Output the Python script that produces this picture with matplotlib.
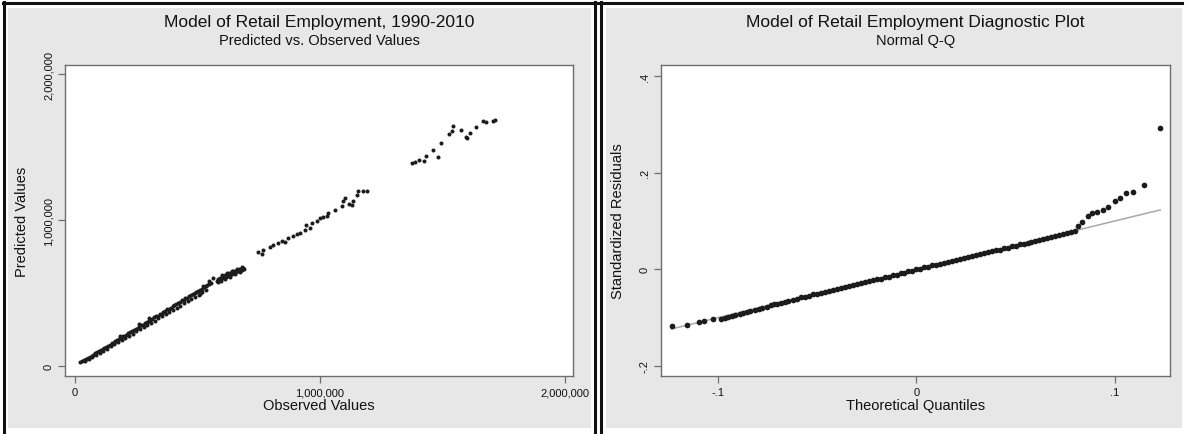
import matplotlib.pyplot as plt
from matplotlib.patches import Rectangle
from matplotlib.lines import Line2D
from matplotlib.ticker import FuncFormatter

# ---- left panel: predicted vs observed (values in thousands) ----
band_obs_k = [22, 30, 38, 45, 52, 60, 68, 75, 83, 90, 98, 105, 113, 120, 128, 135, 143, 150, 158, 165,
              173, 180, 188, 195, 203, 210, 218, 225, 233, 240, 248, 255, 263, 270, 278, 285, 293, 300, 308, 315,
              323, 330, 338, 345, 353, 360, 368, 375, 383, 390, 398, 405, 413, 420, 428, 435, 443, 450, 458, 465,
              473, 480, 488, 495, 503, 510, 518, 525, 533, 540, 548, 555]
band_pred_k = [30, 36, 42, 50, 55, 63, 72, 78, 88, 93, 101, 110, 116, 126, 131, 140, 147, 157, 161, 171,
               176, 186, 192, 203, 207, 216, 224, 232, 237, 249, 252, 263, 268, 281, 284, 296, 300, 309, 316, 325,
               334, 340, 344, 356, 360, 371, 376, 388, 392, 401, 408, 419, 424, 433, 437, 450, 453, 466, 469, 478,
               486, 497, 500, 510, 515, 524, 530, 541, 545, 555, 560, 572]
edge_obs_k = [40, 55, 70, 85, 100, 115, 130, 145, 160, 175, 190, 205, 220, 235, 250, 265, 280, 295, 310, 325,
              340, 355, 370, 385, 400, 415, 430, 445, 460, 475, 490, 505, 520, 535]
edge_pred_k = [33, 49, 62, 77, 91, 106, 120, 135, 149, 164, 179, 193, 208, 223, 238, 252, 267, 282, 296, 311,
               326, 341, 356, 370, 385, 400, 414, 430, 444, 459, 473, 489, 504, 518]
blob_obs_k = [578, 582, 586, 590, 594, 598, 602, 606, 610, 614, 618, 622, 626, 630, 634, 638, 642, 646, 650, 654,
              658, 662, 666, 670, 674, 678, 682, 686, 690, 600, 620, 640, 660, 680, 612, 632, 652, 672, 585, 595,
              563, 545, 523, 510, 302, 262, 183]
blob_pred_k = [585, 598, 590, 605, 595, 612, 600, 618, 607, 622, 612, 630, 618, 635, 624, 640, 630, 648, 636, 652,
               642, 660, 648, 664, 655, 668, 660, 672, 665, 622, 640, 652, 668, 676, 594, 612, 628, 645, 575, 582,
               600, 585, 545, 497, 331, 288, 204]
mid_obs_k = [748, 762, 769, 796, 810, 830, 844, 857, 871, 891, 905, 918, 939, 943, 959, 966, 986, 1000,
             1011, 1027, 1034, 1061, 1088, 1093, 1102, 1120, 1129, 1136, 1150, 1156, 1177, 1190]
mid_pred_k = [779, 766, 795, 818, 830, 841, 857, 853, 876, 894, 903, 910, 933, 968, 945, 979, 991, 1014,
              1018, 1026, 1048, 1071, 1094, 1129, 1152, 1110, 1101, 1129, 1174, 1202, 1198, 1202]
top_obs_k = [1374, 1388, 1405, 1424, 1433, 1460, 1483, 1493, 1525, 1537, 1544, 1576, 1595, 1601, 1612,
             1637, 1664, 1678, 1705, 1714]
top_pred_k = [1393, 1400, 1412, 1405, 1439, 1478, 1432, 1531, 1588, 1612, 1646, 1618, 1570, 1561, 1595,
              1639, 1676, 1669, 1681, 1685]

# ---- right panel: normal Q-Q of standardized residuals ----
qq_low_x = [-0.1234, -0.1154, -0.1098, -0.1068, -0.1023, -0.0987, -0.0965, -0.0947, -0.0930, -0.0912,
            -0.0890, -0.0872, -0.0855, -0.0836, -0.0815, -0.0795, -0.0776, -0.0755, -0.0735, -0.0720,
            -0.0700, -0.0680, -0.0662, -0.0645]
qq_low_y = [-0.118, -0.116, -0.110, -0.106, -0.102, -0.102, -0.100, -0.099, -0.097, -0.095,
            -0.093, -0.091, -0.089, -0.087, -0.084, -0.082, -0.079, -0.077, -0.074, -0.072,
            -0.071, -0.069, -0.067, -0.066]
qq_mid_x = [-0.062, -0.060, -0.058, -0.056, -0.054, -0.052, -0.050, -0.048, -0.046, -0.044, -0.042, -0.040,
            -0.038, -0.036, -0.034, -0.032, -0.030, -0.028, -0.026, -0.024, -0.022, -0.020, -0.018, -0.016,
            -0.014, -0.012, -0.010, -0.008, -0.006, -0.004, -0.002, 0.000, 0.002, 0.004, 0.006, 0.008,
            0.010, 0.012, 0.014, 0.016, 0.018, 0.020, 0.022, 0.024, 0.026, 0.028, 0.030, 0.032,
            0.034, 0.036, 0.038, 0.040, 0.042, 0.044, 0.046, 0.048, 0.050, 0.052, 0.054, 0.056,
            0.058, 0.060, 0.062, 0.064, 0.066, 0.068, 0.070, 0.072, 0.074, 0.076, 0.078, 0.080]
qq_mid_y = [-0.063, -0.061, -0.058, -0.057, -0.055, -0.052, -0.051, -0.048, -0.047, -0.044, -0.043, -0.040,
            -0.039, -0.036, -0.035, -0.032, -0.031, -0.028, -0.027, -0.024, -0.023, -0.020, -0.019, -0.016,
            -0.015, -0.012, -0.011, -0.008, -0.007, -0.004, -0.003, 0.000, 0.001, 0.004, 0.005, 0.008,
            0.009, 0.012, 0.013, 0.016, 0.017, 0.020, 0.021, 0.024, 0.025, 0.028, 0.029, 0.032,
            0.033, 0.036, 0.037, 0.040, 0.041, 0.044, 0.045, 0.048, 0.049, 0.052, 0.053, 0.055,
            0.056, 0.058, 0.060, 0.063, 0.064, 0.067, 0.069, 0.071, 0.073, 0.075, 0.077, 0.080]
qq_high_x = [0.0816, 0.0836, 0.0866, 0.0887, 0.0912, 0.0942, 0.0967, 0.1003, 0.1028, 0.1058, 0.1093,
             0.1149, 0.1229]
qq_high_y = [0.089, 0.097, 0.110, 0.116, 0.118, 0.122, 0.128, 0.141, 0.147, 0.157, 0.159,
             0.174, 0.292]

W, H = 1190, 435
plt.rcParams['font.family'] = ['Liberation Sans', 'DejaVu Sans']

fig = plt.figure(figsize=(W / 100, H / 100), dpi=100)


def box(x0, y0, x1, y1):
    # pixel box (top-left origin) -> figure fraction rect
    return [x0 / W, 1 - y1 / H, (x1 - x0) / W, (y1 - y0) / H]


# panel backgrounds and frame lines
for x0, x1 in [(8, 591), (606, 1182)]:
    l, b, w, h = box(x0, 9, x1, 429)
    fig.add_artist(Rectangle((l, b), w, h, transform=fig.transFigure,
                             facecolor='#e7e7e7', edgecolor='none', zorder=0))
for xp in [3.5, 594.5, 600.5]:
    fig.add_artist(Line2D([xp / W, xp / W], [0, 1 - 3 / H], transform=fig.transFigure,
                          color='#111111', lw=2.2))
fig.add_artist(Line2D([3 / W, 1182 / W], [1 - 3.5 / H, 1 - 3.5 / H], transform=fig.transFigure,
                      color='#111111', lw=2.2))

ax1 = fig.add_axes(box(65, 66, 573, 377))
ax2 = fig.add_axes(box(661, 66, 1170, 377))

dot = '#1c1c1c'
obs = [v * 1000 for v in band_obs_k + edge_obs_k + blob_obs_k + mid_obs_k + top_obs_k]
pred = [v * 1000 for v in band_pred_k + edge_pred_k + blob_pred_k + mid_pred_k + top_pred_k]
ax1.plot(obs, pred, 'o', ms=2.9, color=dot, mec='none')
ax1.set_xlim(-41000, 2033000)
ax1.set_ylim(-68000, 2062000)
ax1.set_xticks([0, 1000000, 2000000])
ax1.set_yticks([0, 1000000, 2000000])
comma = FuncFormatter(lambda v, p: f'{int(v):,}')
ax1.xaxis.set_major_formatter(comma)
ax1.yaxis.set_major_formatter(comma)

qx = qq_low_x + qq_mid_x + qq_high_x
qy = qq_low_y + qq_mid_y + qq_high_y
ax2.plot([min(qx), max(qx)], [min(qx), max(qx)], color='#a8a8a8', lw=1.1, zorder=1)
ax2.plot(qx, qy, 'o', ms=4.1, color=dot, mec='none', zorder=2)
ax2.set_xlim(-0.1287, 0.1278)
ax2.set_ylim(-0.2207, 0.4227)
ax2.set_xticks([-0.1, 0, 0.1])
ax2.set_xticklabels(['-.1', '0', '.1'])
ax2.set_yticks([-0.2, 0, 0.2, 0.4])
ax2.set_yticklabels(['-.2', '0', '.2', '.4'])

titles = [(ax1, 'Model of Retail Employment, 1990-2010', 'Predicted vs. Observed Values',
           'Observed Values', 'Predicted Values'),
          (ax2, 'Model of Retail Employment Diagnostic Plot', 'Normal Q-Q',
           'Theoretical Quantiles', 'Standardized Residuals')]
for ax, t, st, xl, yl in titles:
    ax.set_facecolor('white')
    for s in ax.spines.values():
        s.set_color('#6e6e6e')
        s.set_linewidth(1.0)
    ax.tick_params(colors='#6e6e6e', labelcolor='#111111', length=5, width=0.9,
                   labelsize=8, pad=3)
    plt.setp(ax.get_yticklabels(), rotation=90, va='center')
    ax.set_xlabel(xl, fontsize=10.5, color='#111111', labelpad=1)
    ax.set_ylabel(yl, fontsize=10.5, color='#111111', labelpad=11)
    pos = ax.get_position()
    cx = pos.x0 + pos.width / 2
    fig.text(cx, 1 - 22 / H, t, ha='center', va='center', fontsize=12.5, color='#111111')
    fig.text(cx, 1 - 41 / H, st, ha='center', va='center', fontsize=10.5, color='#111111')

fig.savefig('out.png', dpi=100, facecolor='white')
